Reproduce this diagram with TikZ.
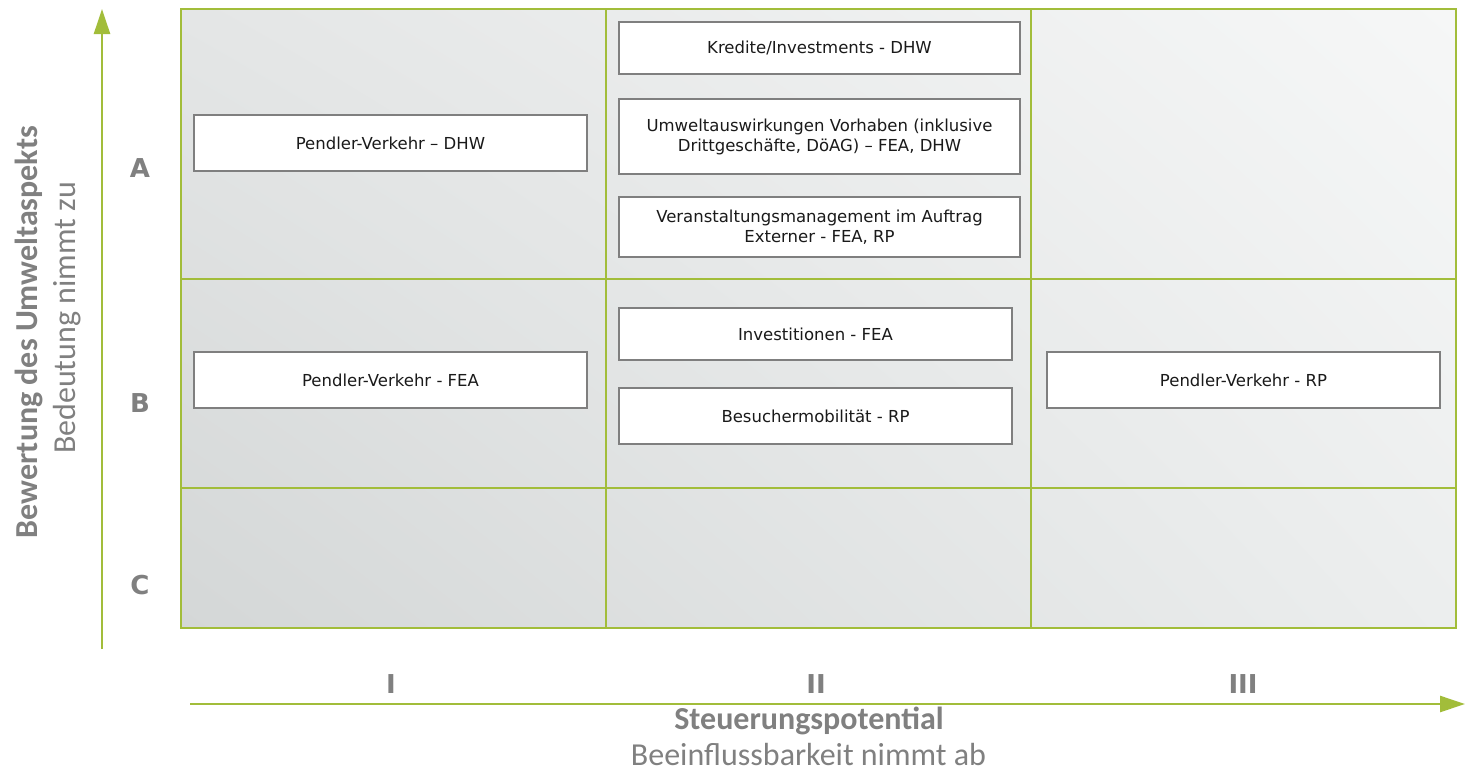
\documentclass[tikz,border=0pt]{standalone}
\usepackage{fontspec}
\setmainfont{DejaVu Sans}
\newfontfamily\calib{Carlito}
\usetikzlibrary{arrows.meta,shadings}
\definecolor{grn}{HTML}{A2BD3A}
\definecolor{boxgray}{HTML}{7F7F7F}
\definecolor{lblgray}{HTML}{808080}
\definecolor{txt}{HTML}{1A1A1A}
\definecolor{bgll}{RGB}{212,215,215}
\definecolor{bgul}{RGB}{228,230,230}
\definecolor{bgur}{RGB}{246,247,247}
\definecolor{bglr}{RGB}{236,238,238}
\tikzset{
  itembox/.style={draw=boxgray, line width=1.5pt, fill=white, inner sep=0pt, align=center, text=txt, font=\fontsize{16.5}{20}\selectfont},
  gridline/.style={draw=grn, line width=2.5pt},
  axisarrow/.style={draw=grn, line width=2.5pt, -{Triangle[length=25pt,width=16pt]}},
  rowlbl/.style={text=lblgray, font=\fontsize{26}{30}\selectfont\bfseries},
  axtitle/.style={text=lblgray, font=\calib\bfseries\fontsize{32}{36}\selectfont, inner sep=0pt},
  axsub/.style={text=lblgray, font=\calib\fontsize{32}{36}\selectfont, inner sep=0pt},
}
\begin{document}
\begin{tikzpicture}[x=1pt,y=-1pt]
\useasboundingbox (0,0) rectangle (1468,772);
% background cells
\shade[lower left=bgll, upper left=bgul, upper right=bgur, lower right=bglr] (181,9) rectangle (1456,628);
% grid
\draw[gridline] (181,9) rectangle (1456,628);
\draw[gridline] (606,9) -- (606,628);
\draw[gridline] (1031,9) -- (1031,628);
\draw[gridline] (181,279) -- (1456,279);
\draw[gridline] (181,488) -- (1456,488);
% boxes
\node[itembox, minimum width=393pt, minimum height=56pt] (a1) at (390.5,143) {Pendler-Verkehr – DHW};
\node[itembox, minimum width=401pt, minimum height=52pt] (a2) at (819.5,48) {Kredite/Investments - DHW};
\node[itembox, minimum width=401pt, minimum height=75pt] (a3) at (819.5,136.5) {Umweltauswirkungen Vorhaben (inklusive\\Drittgeschäfte, DöAG) – FEA, DHW};
\node[itembox, minimum width=401pt, minimum height=60pt] (a4) at (819.5,227) {Veranstaltungsmanagement im Auftrag\\Externer - FEA, RP};
\node[itembox, minimum width=393pt, minimum height=52pt] (b2) at (815.5,334) {Investitionen - FEA};
\node[itembox, minimum width=393pt, minimum height=56pt] (b3) at (815.5,416) {Besuchermobilität - RP};
\node[itembox, minimum width=393pt, minimum height=56pt] (b1) at (390.5,380) {Pendler-Verkehr - FEA};
\node[itembox, minimum width=393pt, minimum height=56pt] (b4) at (1243.5,380) {Pendler-Verkehr - RP};
% row/col labels
\node[rowlbl] (la) at (140,168) {A};
\node[rowlbl] (lb) at (140,403) {B};
\node[rowlbl] (lc) at (140,585) {C};
\node[rowlbl] (l1) at (391,684) {I};
\node[rowlbl] (l2) at (816,684) {II};
\node[rowlbl] (l3) at (1243,684) {III};
% axes
\coordinate (vs) at (102,649);
\coordinate (ve) at (102,9);
\coordinate (hs) at (190,704);
\coordinate (he) at (1465,704);
\draw[axisarrow] (vs) -- (ve);
\draw[axisarrow] (hs) -- (he);
% axis titles
\node[axtitle, anchor=base] (ht) at (809,729) {Steuerungspotential};
\node[axsub, anchor=base] (hs2) at (808.5,765) {Beeinflussbarkeit nimmt ab};
\node[axtitle, rotate=90, anchor=base] (vt) at (37,332) {Bewertung des Umweltaspekts};
\node[axsub, rotate=90, anchor=base] (vs2) at (75,318) {Bedeutung nimmt zu};
\end{tikzpicture}
\end{document}
